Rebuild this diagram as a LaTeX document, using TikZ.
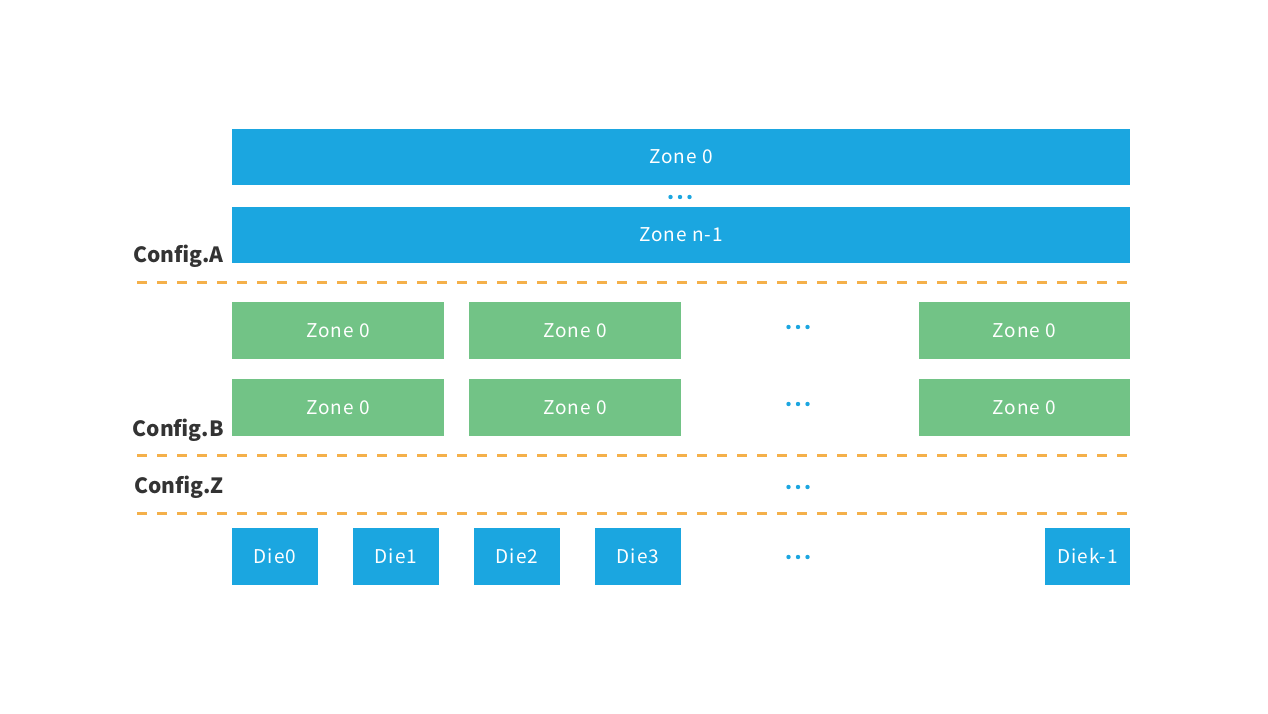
\documentclass[tikz,border=0pt]{standalone}
\usepackage{fontspec}
\setmainfont{Noto Sans CJK SC}
\newfontfamily\boxfont[LetterSpace=5]{Noto Sans CJK SC}
\definecolor{zblue}{RGB}{27,166,224}
\definecolor{zgreen}{RGB}{114,195,134}
\definecolor{zorange}{RGB}{244,176,74}
\definecolor{zdark}{RGB}{51,51,51}
\newcommand{\threedots}[1]{%
  \fill[zblue] ($(#1)+(-9.5,0)$) circle (2.2pt) (#1) circle (2.2pt) ($(#1)+(9.5,0)$) circle (2.2pt);}
\usetikzlibrary{calc}
\begin{document}
\begin{tikzpicture}[x=1pt,y=-1pt,
  box/.style={anchor=north west,inner sep=0pt,outer sep=0pt,text=white,font=\fontsize{19}{19}\boxfont},
  bluebox/.style={box,fill=zblue},
  greenbox/.style={box,fill=zgreen},
  cfg/.style={anchor=base east,inner sep=0pt,text=zdark,font=\fontsize{21}{21}\selectfont\bfseries},
  sep/.style={draw=zorange,line width=3pt,dash pattern=on 10pt off 10pt}]
\useasboundingbox (0,0) rectangle (1268,714);
% Config A
\node[bluebox,minimum width=898pt,minimum height=56pt] (za0) at (232,129) {Zone 0};
\coordinate (da) at (680,197); \threedots{da}
\node[bluebox,minimum width=898pt,minimum height=56pt] (zan) at (232,207) {Zone n-1};
\node[cfg] (ca) at (224,262) {Config.A};
\coordinate (s1a) at (137,282); \coordinate (s1b) at (1130,282);
\draw[sep] (s1a) -- (s1b);
% Config B
\foreach \r/\y in {1/302,2/379}{
  \node[greenbox,minimum width=212pt,minimum height=57pt] (g\r a) at (232,\y) {Zone 0};
  \node[greenbox,minimum width=212pt,minimum height=57pt] (g\r b) at (469,\y) {Zone 0};
  \node[greenbox,minimum width=211pt,minimum height=57pt] (g\r c) at (919,\y) {Zone 0};
}
\coordinate (db1) at (798,327); \threedots{db1}
\coordinate (db2) at (798,404); \threedots{db2}
\node[cfg] (cb) at (224,436) {Config.B};
\coordinate (s2a) at (137,455); \coordinate (s2b) at (1130,455);
\draw[sep] (s2a) -- (s2b);
% Config Z
\node[cfg] (cz) at (224,493) {Config.Z};
\coordinate (dz) at (798,487); \threedots{dz}
\coordinate (s3a) at (137,513); \coordinate (s3b) at (1130,513);
\draw[sep] (s3a) -- (s3b);
% Dies
\foreach \n/\x in {0/232,1/353,2/474,3/595}{
  \node[bluebox,minimum width=86pt,minimum height=57pt] (die\n) at (\x,528) {Die\n};
}
\coordinate (dd) at (798,557); \threedots{dd}
\node[bluebox,minimum width=85pt,minimum height=57pt] (diek) at (1045,528) {Diek-1};
\end{tikzpicture}
\end{document}
